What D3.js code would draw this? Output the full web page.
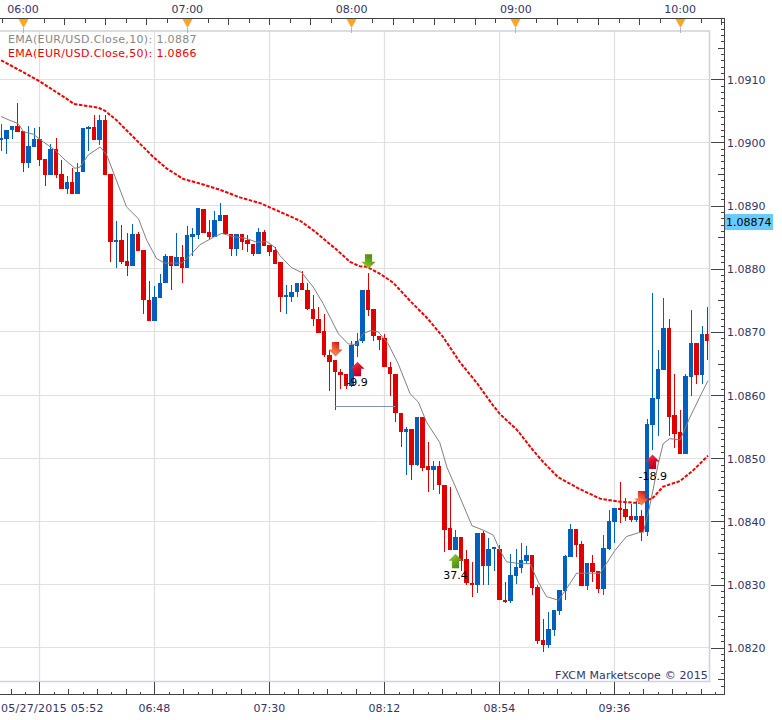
<!DOCTYPE html>
<html><head><meta charset="utf-8">
<script src="https://cdn.jsdelivr.net/npm/d3@7"></script>
<style>
html,body{margin:0;padding:0;background:#fff}
svg{display:block}
text{font-family:"DejaVu Sans",Verdana,sans-serif;font-size:11px}
.axis text{fill:#333366}
</style></head><body>
<svg id="c" width="782" height="720"></svg>
<script>
const startMinutes = 5*60+52, minutesPerBar = 2;
const opens = [
1.09004,1.09006,1.09019,1.09026,1.09018,1.08968,1.08993,1.09005,1.08974,1.08948,
1.08989,1.08950,1.08926,1.08938,1.08919,1.08953,1.09022,1.09024,1.09004,1.09035,
1.08950,1.08842,1.08845,1.08812,1.08804,1.08855,1.08829,1.08751,1.08718,1.08753,
1.08777,1.08821,1.08804,1.08818,1.08801,1.08851,1.08853,1.08894,1.08858,1.08850,
1.08875,1.08885,1.08855,1.08831,1.08855,1.08845,1.08840,1.08823,1.08858,1.08837,
1.08829,1.08810,1.08755,1.08756,1.08763,1.08778,1.08767,1.08737,1.08721,1.08701,
1.08664,1.08655,1.08637,1.08633,1.08615,1.08677,1.08685,1.08766,1.08736,1.08694,
1.08690,1.08645,1.08634,1.08572,1.08542,1.08547,1.08490,1.08565,1.08487,1.08482,
1.08488,1.08458,1.08389,1.08354,1.08376,1.08340,1.08303,1.08300,1.08382,1.08330,
1.08357,1.08357,1.08276,1.08274,1.08314,1.08326,1.08337,1.08347,1.08296,1.08212,
1.08204,1.08228,1.08258,1.08290,1.08343,1.08388,1.08364,1.08297,1.08334,1.08321,
1.08293,1.08356,1.08399,1.08421,1.08419,1.08408,1.08402,1.08408,1.08383,1.08552,
1.08593,1.08639,1.08707,1.08568,1.08541,1.08506,1.08628,1.08682,1.08631,1.08697];
const closes = [
1.09007,1.09020,1.09026,1.09016,1.08968,1.08994,1.09005,1.08972,1.08949,1.08989,
1.08948,1.08926,1.08938,1.08919,1.08954,1.09023,1.09024,1.09004,1.09035,1.08949,
1.08842,1.08845,1.08810,1.08804,1.08855,1.08828,1.08750,1.08718,1.08755,1.08778,
1.08821,1.08804,1.08818,1.08801,1.08853,1.08855,1.08896,1.08856,1.08850,1.08877,
1.08885,1.08855,1.08831,1.08855,1.08843,1.08839,1.08823,1.08858,1.08836,1.08827,
1.08808,1.08755,1.08758,1.08764,1.08778,1.08766,1.08736,1.08720,1.08699,1.08663,
1.08653,1.08636,1.08631,1.08615,1.08679,1.08686,1.08766,1.08734,1.08693,1.08688,
1.08644,1.08633,1.08571,1.08542,1.08547,1.08490,1.08565,1.08485,1.08482,1.08488,
1.08457,1.08387,1.08354,1.08376,1.08338,1.08302,1.08300,1.08382,1.08330,1.08357,
1.08359,1.08275,1.08274,1.08315,1.08328,1.08339,1.08347,1.08294,1.08211,1.08204,
1.08230,1.08260,1.08291,1.08345,1.08388,1.08362,1.08298,1.08334,1.08320,1.08293,
1.08358,1.08400,1.08421,1.08418,1.08407,1.08402,1.08408,1.08383,1.08554,1.08595,
1.08641,1.08707,1.08566,1.08539,1.08506,1.08630,1.08682,1.08631,1.08697,1.08686];
const highs = [
1.09029,1.09020,1.09026,1.09062,1.09018,1.09026,1.09023,1.09024,1.08974,1.08998,
1.09007,1.08972,1.08947,1.08960,1.08968,1.09023,1.09026,1.09044,1.09044,1.09043,
1.08950,1.08875,1.08870,1.08856,1.08871,1.08858,1.08829,1.08780,1.08772,1.08792,
1.08823,1.08821,1.08856,1.08837,1.08867,1.08864,1.08897,1.08894,1.08877,1.08891,
1.08904,1.08885,1.08855,1.08855,1.08855,1.08853,1.08840,1.08864,1.08862,1.08837,
1.08835,1.08810,1.08775,1.08774,1.08778,1.08797,1.08778,1.08758,1.08739,1.08728,
1.08671,1.08655,1.08641,1.08633,1.08685,1.08698,1.08766,1.08793,1.08736,1.08694,
1.08696,1.08653,1.08634,1.08572,1.08550,1.08547,1.08566,1.08565,1.08525,1.08495,
1.08495,1.08458,1.08455,1.08387,1.08376,1.08354,1.08336,1.08382,1.08384,1.08374,
1.08360,1.08363,1.08304,1.08348,1.08356,1.08365,1.08361,1.08347,1.08300,1.08245,
1.08257,1.08260,1.08291,1.08347,1.08396,1.08388,1.08369,1.08334,1.08347,1.08321,
1.08378,1.08418,1.08421,1.08462,1.08437,1.08427,1.08432,1.08418,1.08562,1.08761,
1.08671,1.08754,1.08721,1.08633,1.08577,1.08634,1.08735,1.08682,1.08709,1.08739];
const lows = [
1.08987,1.08981,1.09005,1.09016,1.08953,1.08960,1.08993,1.08963,1.08931,1.08948,
1.08944,1.08926,1.08919,1.08919,1.08919,1.08953,1.08986,1.09004,1.08996,1.08949,
1.08810,1.08801,1.08807,1.08789,1.08804,1.08828,1.08729,1.08718,1.08718,1.08753,
1.08777,1.08767,1.08804,1.08778,1.08801,1.08820,1.08847,1.08856,1.08847,1.08850,
1.08875,1.08855,1.08820,1.08821,1.08829,1.08826,1.08820,1.08823,1.08836,1.08820,
1.08808,1.08732,1.08729,1.08748,1.08756,1.08766,1.08734,1.08709,1.08698,1.08660,
1.08606,1.08577,1.08609,1.08610,1.08612,1.08660,1.08682,1.08725,1.08686,1.08671,
1.08644,1.08598,1.08557,1.08517,1.08474,1.08465,1.08487,1.08479,1.08446,1.08450,
1.08443,1.08352,1.08354,1.08354,1.08322,1.08300,1.08281,1.08286,1.08300,1.08300,
1.08321,1.08275,1.08271,1.08271,1.08301,1.08319,1.08333,1.08283,1.08206,1.08193,
1.08200,1.08218,1.08252,1.08275,1.08343,1.08343,1.08298,1.08291,1.08304,1.08286,
1.08283,1.08354,1.08365,1.08397,1.08400,1.08399,1.08399,1.08369,1.08377,1.08513,
1.08535,1.08639,1.08535,1.08516,1.08506,1.08506,1.08598,1.08617,1.08617,1.08656];

const ema10Bars = [0,1.6,3.1,4.1,5.9,7.7,9.8,11.7,13.5,14.4,15.9,18.1,19.3,20.8,22.9,25.1,26.6,28.4,29.9,33,34.5,36.3,38.8,40.3,42.4,44.8,46.7,48.5,50,50.9,53,54.9,57,58.8,61.6,63.4,64.9,66.1,67.4,68.9,70.7,72.5,74.7,76.2,77.7,80.1,81.4,83.8,86,88.1,89.9,91.1,92.3,94.8,96.6,98.1,99.6,101.8,103.3,105.1,109.4,112.1,114.2,116.4,117.3,118.5,120,120.9,122.1,124,125.8,127.6,129.1];
const ema10Values = [1.09041,1.09035,1.09030,1.09017,1.09013,1.09001,1.08988,1.08972,1.08959,1.08961,1.08980,1.08993,1.08980,1.08946,1.08898,1.08879,1.08845,1.08816,1.08809,1.08809,1.08821,1.08838,1.08850,1.08856,1.08851,1.08848,1.08842,1.08843,1.08834,1.08821,1.08802,1.08794,1.08771,1.08745,1.08697,1.08681,1.08680,1.08697,1.08702,1.08700,1.08681,1.08650,1.08602,1.08589,1.08557,1.08525,1.08486,1.08438,1.08393,1.08386,1.08378,1.08354,1.08336,1.08333,1.08333,1.08304,1.08281,1.08275,1.08294,1.08318,1.08318,1.08354,1.08376,1.08382,1.08383,1.08426,1.08491,1.08523,1.08531,1.08529,1.08565,1.08597,1.08623];
const ema50Bars = [0,2.2,7,12,13.3,17.8,19,21.1,24.1,27.8,30.2,33.3,36.3,40,43.6,47.3,54.6,57,61.3,63.7,65.5,66.8,69.2,71.6,74.7,77.8,80.7,83.8,86.9,89.8,91.1,94.2,97.1,99,101.7,105.7,109.4,113,116.7,119,120.9,124,126.4,129.1];
const ema50Values = [1.09130,1.09120,1.09097,1.09069,1.09061,1.09055,1.09050,1.09035,1.09009,1.08977,1.08959,1.08942,1.08935,1.08925,1.08913,1.08904,1.08876,1.08861,1.08830,1.08811,1.08804,1.08803,1.08792,1.08778,1.08749,1.08722,1.08692,1.08652,1.08619,1.08584,1.08570,1.08545,1.08513,1.08494,1.08470,1.08451,1.08436,1.08431,1.08429,1.08437,1.08455,1.08464,1.08481,1.08504];

const priceTicks = d3.range(1.0820,1.09101,0.001);
const priceLabels = ["1.0820","1.0830","1.0840","1.0850","1.0860","1.0870","1.0880","1.0890","1.0900","1.0910"];
const minorPrice5 = [1.0815,1.0825,1.0835,1.0845,1.0855,1.0865,1.0875,1.0885,1.0895,1.0905,1.0915];
const minorPrice1 = d3.range(1.0814,1.09201,0.0001);
const gridBars = [7,28,49,70,91,112];
const bottomLabels = ["05/27/2015 05:52","06:48","07:30","08:12","08:54","09:36"];
const hourMinutes = [360,420,480,540,600];
const hourLabels = ["06:00","07:00","08:00","09:00","10:00"];
const markers = [
 {bar:61,price:1.08673,dir:"down",col:"red"},
 {bar:65,price:1.08641,dir:"up",col:"red"},
 {bar:67,price:1.08812,dir:"down",col:"green"},
 {bar:83,price:1.08337,dir:"up",col:"green"},
 {bar:117,price:1.08437,dir:"down",col:"red"},
 {bar:119,price:1.08494,dir:"up",col:"red"}];
const tradeLabels = [
 {bar:65,price:1.08620,text:"-9.9"},
 {bar:83,price:1.08315,text:"37.4"},
 {bar:119,price:1.08472,text:"-18.9"}];
const stopLine = {from:61,to:72,price:1.08582};
const legendTexts = ["EMA(EUR/USD.Close,10): 1.0887","EMA(EUR/USD.Close,50): 1.0866"];
const lastPrice = 1.08874;

const svg = d3.select("#c");
const x = d3.scaleLinear().domain([0,129]).range([1.1,707.5]);
const y = d3.scaleLinear().domain([1.0820,1.0910]).range([647.7,79.3]);
const xMin = d3.scaleLinear().domain([startMinutes,startMinutes+258]).range([1.1,707.5]);
const R=709,T=31,B=681.5,AX=724.5,TOPY=18.5,BOTY=694.5;
const px = v=>Math.floor(v)+0.5;
const bodyStart = i=>Math.round(x(i)-2.3);
const bodyWidth = i=>bodyStart(i+1)-bodyStart(i)-1;

const defs = svg.append("defs");
defs.append("clipPath").attr("id","plot").append("rect").attr("x",0).attr("y",T).attr("width",R).attr("height",B-T);
function grad(id,stops){
  const g=defs.append("linearGradient").attr("id",id).attr("x1",0).attr("y1",0).attr("x2",0.6).attr("y2",1);
  stops.forEach((c,i)=>g.append("stop").attr("offset",i/(stops.length-1)).attr("stop-color",c));
}
grad("gr-down-red",["#f09070","#f07040","#d81818"]);
grad("gr-up-red",["#f06060","#e01030","#b80020"]);
grad("gr-green",["#a8d840","#70b020","#4c8c10"]);

// grid
const grid = svg.append("g");
grid.selectAll(".h").data(priceTicks).join("line")
  .attr("x1",0).attr("x2",R).attr("y1",d=>px(y(d))).attr("y2",d=>px(y(d)))
  .attr("stroke","#e0e0e0");
grid.selectAll(".v").data(gridBars).join("line")
  .attr("x1",d=>px(x(d))).attr("x2",d=>px(x(d))).attr("y1",T).attr("y2",B)
  .attr("stroke","#e0e0e0").attr("stroke-width",1.2);

// footer
svg.append("text").attr("x",708).attr("y",679).attr("text-anchor","end").attr("fill","#333366").attr("letter-spacing",0.14).text("FXCM Marketscope © 2015");

// candles
const plot = svg.append("g").attr("clip-path","url(#plot)");
const bars = d3.range(opens.length);
const colour = i=>closes[i]>=opens[i]?"#0060c0":"#e00000";
plot.selectAll(".w").data(bars).join("rect")
  .attr("x",i=>bodyStart(i)+2).attr("width",1)
  .attr("y",i=>Math.round(y(highs[i]))).attr("height",i=>Math.max(1,Math.round(y(lows[i]))-Math.round(y(highs[i]))))
  .attr("fill",colour);
plot.selectAll(".b").data(bars).join("rect")
  .attr("x",bodyStart).attr("width",bodyWidth)
  .attr("y",i=>Math.round(y(Math.max(opens[i],closes[i]))))
  .attr("height",i=>Math.max(2,Math.round(y(Math.min(opens[i],closes[i])))-Math.round(y(Math.max(opens[i],closes[i])))))
  .attr("fill",colour);

// stop line
plot.append("line").attr("x1",x(stopLine.from)).attr("x2",x(stopLine.to))
  .attr("y1",px(y(stopLine.price))).attr("y2",px(y(stopLine.price))).attr("stroke","#8490bc");

// EMAs
const lineGen = (xs,ys)=>d3.line().x((d,i)=>x(xs[i])).y((d,i)=>y(ys[i]))(xs);
plot.append("path").attr("d",lineGen(ema10Bars,ema10Values)).attr("fill","none").attr("stroke","#808080").attr("stroke-width",1);
plot.append("path").attr("d",lineGen(ema50Bars,ema50Values)).attr("fill","none").attr("stroke","#f00000").attr("stroke-width",2).attr("stroke-dasharray","3.5 1.5");

// trade markers
const arrow = d3.path(); // unit arrow pointing up, centred on origin
arrow.moveTo(0,-7.5);arrow.lineTo(7,-0.5);arrow.lineTo(3.6,-0.5);arrow.lineTo(3.6,7);arrow.lineTo(-3.6,7);arrow.lineTo(-3.6,-0.5);arrow.lineTo(-7,-0.5);arrow.closePath();
const mk = svg.append("g");
mk.selectAll("path").data(markers).join("path")
  .attr("d",arrow.toString())
  .attr("transform",d=>`translate(${bodyStart(d.bar)+2.5},${y(d.price)})`+(d.dir==="down"?" scale(1,-1)":""))
  .attr("fill",d=>d.col==="green"?"url(#gr-green)":(d.dir==="down"?"url(#gr-down-red)":"url(#gr-up-red)"));
svg.append("g").selectAll("text").data(tradeLabels).join("text")
  .attr("x",d=>x(d.bar)).attr("y",d=>y(d.price)+4).attr("text-anchor","middle").attr("fill","#000").text(d=>d.text);

// legend
svg.append("g").selectAll("text").data(legendTexts).join("text")
  .attr("x",8).attr("y",(d,i)=>43+i*13.5).attr("letter-spacing",0.34).attr("fill",(d,i)=>i?"#f00000":"#888888").text(d=>d);

// frame
const frame="#cdd3de";
svg.append("path").attr("d",`M0,${T}H${R+.5}V${B}H0`).attr("fill","none").attr("stroke",frame).attr("stroke-width",1.6);

// axes
function axisLayer(axis,tx,ty,cls){
  const g=svg.append("g").attr("class","axis "+(cls||"")).attr("transform",`translate(${tx},${ty})`).call(axis);
  g.select(".domain").remove();
  g.selectAll(".tick line").attr("stroke","#444").attr("shape-rendering","crispEdges");
  return g;
}
// right
const rightMaj = d3.axisLeft(y).tickValues(priceTicks).tickSize(14).tickFormat("");
const right5 = d3.axisLeft(y).tickValues(minorPrice5).tickSize(7).tickFormat("");
const right1 = d3.axisLeft(y).tickValues(minorPrice1.filter(v=>y(v)>T-10&&y(v)<BOTY-8)).tickSize(4).tickFormat("");
[rightMaj,right5,right1].forEach(a=>axisLayer(a,AX,0));
svg.append("g").attr("class","axis").selectAll("text").data(priceTicks).join("text")
  .attr("x",727).attr("y",d=>px(y(d))+4).attr("fill","#333366").text((d,i)=>priceLabels[i]);

// top
const topMaj = d3.axisBottom(xMin).tickValues(d3.range(345,620,15)).tickSize(6).tickFormat("");
const topMin = d3.axisBottom(xMin).tickValues(d3.range(352.5,620,15)).tickSize(4).tickFormat("");
[topMaj,topMin].forEach(a=>axisLayer(a,0,TOPY));
svg.append("g").attr("class","axis").selectAll("text").data(hourLabels).join("text")
  .attr("x",(d,i)=>xMin(hourMinutes[i])).attr("y",13).attr("text-anchor","middle").attr("fill","#333366").text(d=>d);
svg.append("g").selectAll("path").data(hourMinutes).join("path")
  .attr("d",d3.line()([[-5,19],[5,19],[0,28]])+"Z")
  .attr("transform",d=>`translate(${Math.floor(xMin(d))+0.5},0)`).attr("fill","#ffa526");
svg.append("g").selectAll("line").data(hourMinutes).join("line")
  .attr("x1",d=>px(xMin(d))).attr("x2",d=>px(xMin(d))).attr("y1",28).attr("y2",33)
  .attr("stroke","#a8b8d0");

// bottom
const bottomMaj = d3.axisTop(x).tickValues(gridBars).tickSize(13).tickFormat("");
const mids = d3.range(0,129.5,21/4);
const shorts = mids.map(v=>v+21/8);
const bottomMid = d3.axisTop(x).tickValues(mids.map(v=>v+7%5.25)).tickSize(6).tickFormat("");
const bottomShort = d3.axisTop(x).tickValues(shorts.map(v=>v+7%5.25).filter(v=>x(v)<AX-2)).tickSize(3).tickFormat("");
[bottomMaj,bottomMid,bottomShort].forEach(a=>axisLayer(a,0,BOTY));
const bottomLabelBars=[null,28,49,70,91,112];
const bl=svg.append("g").attr("class","axis");
bl.selectAll("text").data(bottomLabels).join("text")
  .attr("x",(d,i)=>i?x(bottomLabelBars[i]):1).attr("y",712)
  .attr("letter-spacing",(d,i)=>i?0:0.26)
  .attr("text-anchor",(d,i)=>i?"middle":"start").attr("fill","#333366").text(d=>d);

// axis lines
svg.append("path").attr("d",`M0,${TOPY}H${AX}V${BOTY}H0`).attr("fill","none").attr("stroke","#444").attr("shape-rendering","crispEdges");

// last price tag
svg.append("rect").attr("x",725).attr("y",y(lastPrice)-8).attr("width",48).attr("height",16).attr("fill","#66ccff");
svg.append("text").attr("x",726).attr("y",y(lastPrice)+4).attr("fill","#000").text(d3.format(".5f")(lastPrice));
</script></body></html>
